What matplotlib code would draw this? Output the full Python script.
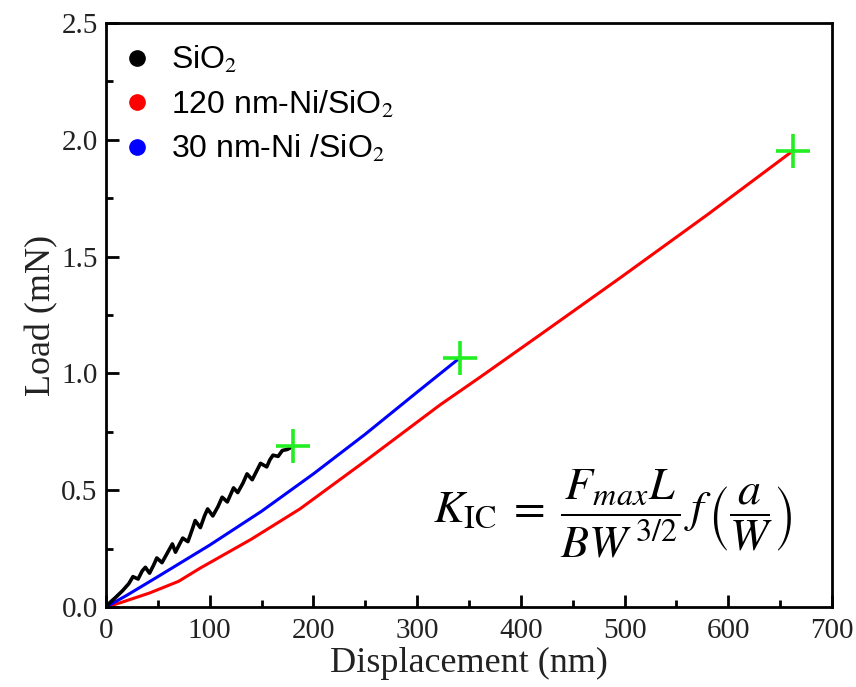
"""Load-displacement curves for SiO2 and Ni/SiO2 micro-cantilevers."""

import matplotlib
matplotlib.use("Agg")
import matplotlib.pyplot as plt
from matplotlib.lines import Line2D
from matplotlib.ticker import MultipleLocator

plt.rcParams.update({
    'font.family': 'Liberation Serif',
    'mathtext.fontset': 'stix',
    'font.size': 21,
})

# SiO2 (black): sawtooth-like steps
sio2_disp = [0, 4, 9, 16, 22, 26, 31, 35, 38, 42, 46, 49, 54, 59, 64, 67, 71, 74, 79,
             83, 86, 91, 95, 98, 103, 108, 112, 117, 120, 123, 127, 132, 136, 141, 145,
             149, 155, 158, 161, 166, 170, 175, 179]
sio2_load = [0, 0.02, 0.04, 0.07, 0.10, 0.13, 0.12, 0.155, 0.17, 0.145, 0.18, 0.21, 0.19,
             0.23, 0.27, 0.235, 0.27, 0.295, 0.28, 0.33, 0.37, 0.34, 0.39, 0.42, 0.39,
             0.43, 0.47, 0.45, 0.48, 0.51, 0.49, 0.53, 0.57, 0.545, 0.58, 0.615, 0.60,
             0.63, 0.65, 0.645, 0.67, 0.675, 0.685]

# 120 nm-Ni/SiO2 (red)
ni120_disp = [0, 15, 42, 70, 91, 140, 187, 250, 322, 361, 420, 496, 580, 662]
ni120_load = [0, 0.02, 0.06, 0.11, 0.167, 0.29, 0.42, 0.625, 0.865, 0.985, 1.17, 1.41, 1.68, 1.952]

# 30 nm-Ni/SiO2 (blue)
ni30_disp = [0, 20, 50, 100, 150, 200, 250, 300, 341]
ni30_load = [0, 0.05, 0.13, 0.265, 0.41, 0.57, 0.74, 0.92, 1.066]

# fracture points (green crosses)
frac_disp = [180, 341, 662]
frac_load = [0.69, 1.066, 1.952]

fig = plt.figure(figsize=(8.56, 6.87), dpi=100)
ax = fig.add_axes([0.1238, 0.1164, 0.8482, 0.8501])

ax.plot(ni120_disp, ni120_load, color='#ff0000', lw=2.2)
ax.plot(ni30_disp, ni30_load, color='#0000ff', lw=2.2)
ax.plot(sio2_disp, sio2_load, color='black', lw=2.6)
ax.plot(frac_disp, frac_load, linestyle='none', marker='+', color='#22ee22',
        ms=25, mew=2.6)

ax.set_xlim(0, 700)
ax.set_ylim(0, 2.5)
ax.xaxis.set_major_locator(MultipleLocator(100))
ax.xaxis.set_minor_locator(MultipleLocator(50))
ax.yaxis.set_major_locator(MultipleLocator(0.5))
ax.yaxis.set_minor_locator(MultipleLocator(0.25))
ax.yaxis.set_major_formatter(plt.FormatStrFormatter('%.1f'))
ax.tick_params(which='both', direction='in', width=2, labelsize=21,
               labelcolor='#222222')
ax.tick_params(axis='x', pad=8)
ax.tick_params(axis='y', pad=6)
ax.tick_params(which='major', length=9)
ax.tick_params(which='minor', length=5)
for s in ax.spines.values():
    s.set_linewidth(2)

ax.set_xlabel('Displacement (nm)', fontsize=26, labelpad=2, color='#222222')
ax.set_ylabel('Load (mN)', fontsize=26, labelpad=2, color='#222222')

handles = [Line2D([], [], linestyle='none', marker='o', ms=11, color=c)
           for c in ('black', '#ff0000', '#0000ff')]
labels = ['SiO$_2$', '120 nm-Ni/SiO$_2$', '30 nm-Ni /SiO$_2$']
ax.legend(handles, labels, loc='upper left', frameon=False,
          prop={'family': 'Liberation Sans', 'size': 23},
          handletextpad=0.35, labelspacing=0.42, borderaxespad=0.0,
          handlelength=1.4, bbox_to_anchor=(-0.005, 0.985))

ax.text(0.697, 0.16,
        r'$K_{\mathrm{IC}}\;=\;\dfrac{F_{max}L}{BW^{\,3/2}}\,f\,\left(\dfrac{a}{W}\right)$',
        transform=ax.transAxes, ha='center', va='center', fontsize=33)

fig.savefig('out.png', dpi=100)
